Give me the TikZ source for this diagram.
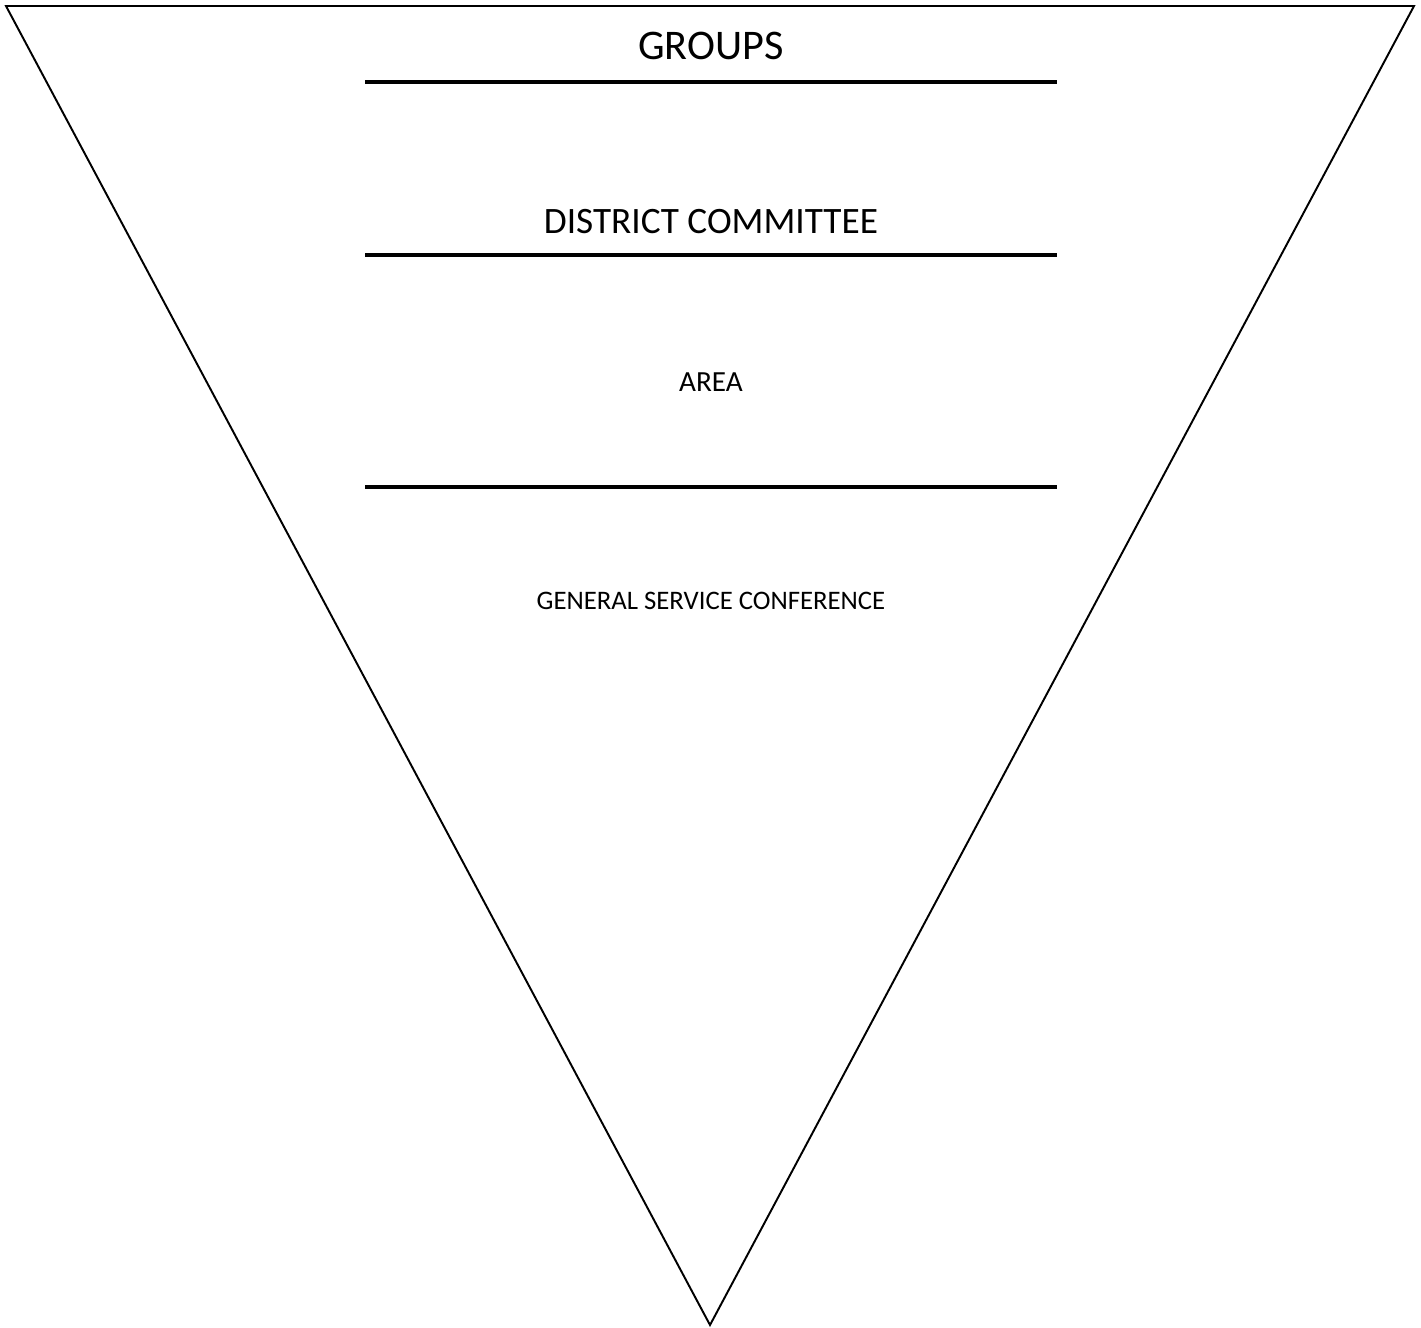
\documentclass[tikz,border=0pt]{standalone}
\usepackage{fontspec}
\setmainfont{Carlito}
\usepackage{tikz}
\usetikzlibrary{positioning}

\begin{document}
\begin{tikzpicture}[x=0.01cm, y=-0.01cm,
  level/.style={line width=0.9pt},
  bigtext/.style={font=\fontsize{12}{14}\selectfont},
  midtext/.style={font=\fontsize{10.6}{13}\selectfont},
  smalltext/.style={font=\fontsize{7.6}{9}\selectfont}]
  \useasboundingbox (0,0) rectangle (1421,1327);
  \coordinate (TL) at (6,6);
  \coordinate (TR) at (1414,6);
  \coordinate (Apex) at (710,1325);
  \draw[line width=0.55pt, line join=miter] (TL) -- (TR) -- (Apex) -- cycle;
  \node[bigtext] (Groups) at (711,46) {GROUPS};
  \node[midtext] (District) at (711,222) {DISTRICT COMMITTEE};
  \node[font=\fontsize{8.3}{10}\selectfont] (Area) at (711,382) {AREA};
  \node[smalltext] (Conf) at (711,601) {GENERAL SERVICE CONFERENCE};
  \coordinate (L1a) at (365,82);  \coordinate (L1b) at (1057,82);
  \coordinate (L2a) at (365,255); \coordinate (L2b) at (1057,255);
  \coordinate (L3a) at (365,487); \coordinate (L3b) at (1057,487);
  \draw[level] (L1a) -- (L1b);
  \draw[level] (L2a) -- (L2b);
  \draw[level] (L3a) -- (L3b);
\end{tikzpicture}
\end{document}
